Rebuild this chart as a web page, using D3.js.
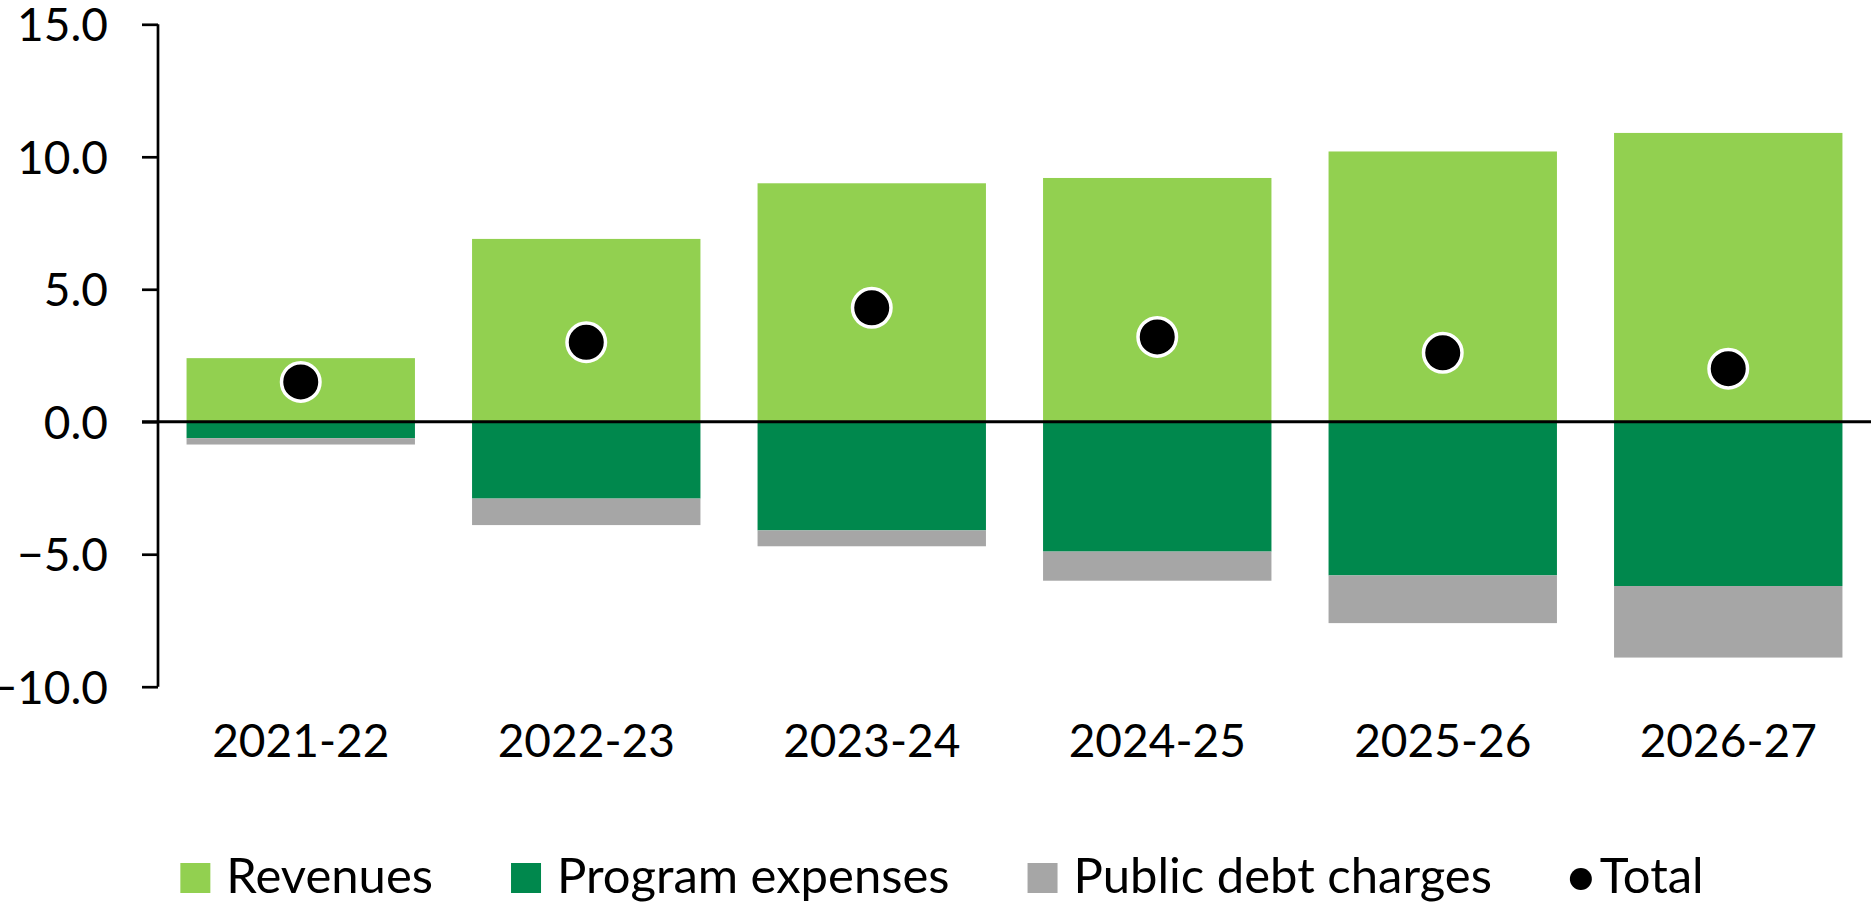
<!DOCTYPE html>
<html>
<head>
<meta charset="utf-8">
<script src="https://cdn.jsdelivr.net/npm/d3@7"></script>
<style>
  body { margin: 0; background: #fff; }
  text { font-family: Lato, "Open Sans", sans-serif; fill: #000; }
</style>
</head>
<body>
<div id="chart"></div>
<script>
// data
var years = ["2021-22", "2022-23", "2023-24", "2024-25", "2025-26", "2026-27"];
var revenues = [2.4, 6.9, 9.0, 9.2, 10.2, 10.9];
var programExpenses = [-0.62, -2.9, -4.1, -4.9, -5.8, -6.2];
var debtCharges = [-0.24, -1.0, -0.6, -1.1, -1.8, -2.7];
var totals = [1.5, 3.0, 4.3, 3.2, 2.6, 2.0];
var yTicks = [-10, -5, 0, 5, 10, 15];
var seriesNames = ["Revenues", "Program expenses", "Public debt charges", "Total"];

var W = 1871, H = 904;
var plotLeft = 158, plotTop = 24.3, plotBottom = 686.7;

var svg = d3.select("#chart")
  .append("svg")
    .attr("width", W)
    .attr("height", H);

var keys = ["rev", "prog", "debt"];
var color = d3.scaleOrdinal()
  .domain(keys)
  .range(["#92D050", "#00884D", "#A6A6A6"]);

var rows = years.map(function(y, i) {
  return {year: y, rev: revenues[i], prog: programExpenses[i], debt: debtCharges[i], total: totals[i]};
});

// scales
var x = d3.scaleBand()
  .domain(years)
  .range([plotLeft, W])
  .paddingInner(0.2)
  .paddingOuter(0.1);

var y = d3.scaleLinear()
  .domain([-10, 15])
  .range([plotBottom, plotTop]);

// stacked bars (diverging around zero)
var stacked = d3.stack().keys(keys).offset(d3.stackOffsetDiverging)(rows);

svg.append("g")
  .selectAll("g")
  .data(stacked)
  .enter()
  .append("g")
    .attr("fill", function(d) { return color(d.key); })
  .selectAll("rect")
  .data(function(d) { return d; })
  .enter()
  .append("rect")
    .attr("x", function(d) { return x(d.data.year); })
    .attr("y", function(d) { return y(Math.max(d[0], d[1])); })
    .attr("width", x.bandwidth())
    .attr("height", function(d) { return Math.abs(y(d[0]) - y(d[1])); });

// y axis
var yAxis = svg.append("g")
  .attr("transform", "translate(" + plotLeft + ",0)")
  .call(d3.axisLeft(y).tickValues(yTicks).tickSize(16).tickPadding(34)
    .tickFormat(function(d) { return d3.format(".1f")(d); }));
yAxis.select(".domain")
  .attr("d", "M0," + y(15) + "V" + y(-10))
  .attr("stroke", "#000")
  .attr("stroke-width", 2.7);
yAxis.selectAll(".tick line").attr("stroke", "#000").attr("stroke-width", 2.7);
yAxis.selectAll(".tick text")
  .style("font-size", "46px")
  .attr("dy", "0.36em");

// zero line
svg.append("line")
  .attr("x1", plotLeft - 16)
  .attr("x2", W)
  .attr("y1", y(0))
  .attr("y2", y(0))
  .attr("stroke", "#000")
  .attr("stroke-width", 3);

// category labels
svg.append("g")
  .selectAll("text")
  .data(years)
  .enter()
  .append("text")
    .attr("x", function(d) { return x(d) + x.bandwidth() / 2; })
    .attr("y", 757)
    .attr("text-anchor", "middle")
    .style("font-size", "46px")
    .text(function(d) { return d; });

// total dots
svg.append("g")
  .selectAll("circle")
  .data(rows)
  .enter()
  .append("circle")
    .attr("cx", function(d) { return x(d.year) + x.bandwidth() / 2; })
    .attr("cy", function(d) { return y(d.total); })
    .attr("r", 19.25)
    .attr("fill", "#000")
    .attr("stroke", "#fff")
    .attr("stroke-width", 3.5);

// legend
var legend = svg.append("g");
var items = legend.selectAll("g")
  .data(seriesNames)
  .enter()
  .append("g");

items.each(function(d, i) {
  var g = d3.select(this);
  if (i < 3) {
    g.append("rect")
      .attr("x", 0).attr("y", 863)
      .attr("width", 30).attr("height", 30)
      .attr("fill", color(keys[i]));
  } else {
    g.append("circle")
      .attr("cx", 11).attr("cy", 879)
      .attr("r", 11)
      .attr("fill", "#000");
  }
  g.append("text")
    .attr("x", i < 3 ? 46 : 30)
    .attr("y", 893)
    .style("font-size", "49px")
    .text(d);
});

// lay the legend items out in a row, centred
var gap = 78, pos = 0, widths = [];
items.each(function() { widths.push(this.getBBox().width); });
var totalW = d3.sum(widths) + gap * (widths.length - 1);
pos = 942 - totalW / 2;
items.attr("transform", function(d, i) {
  var t = "translate(" + pos + ",0)";
  pos += widths[i] + gap;
  return t;
});
</script>
</body>
</html>
